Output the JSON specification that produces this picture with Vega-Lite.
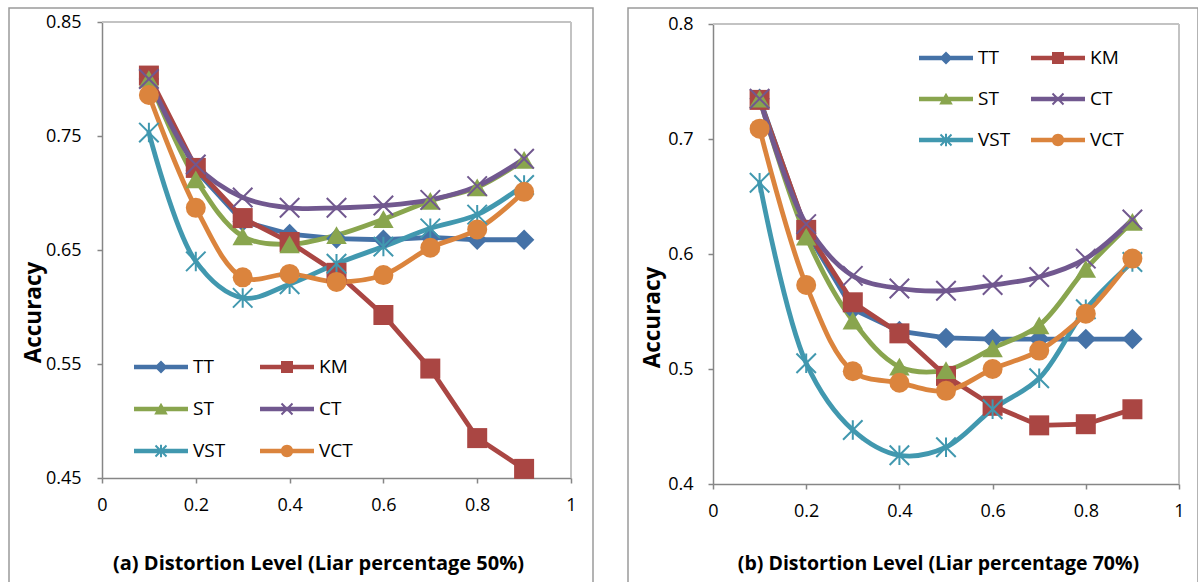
{
  "$schema": "https://vega.github.io/schema/vega-lite/v6.json",
  "padding": {"left": 8, "top": 7, "right": 0, "bottom": 0},
  "background": "white",
  "spacing": 35,
  "bounds": "flush",
  "datasets": {
    "acc": [
      {"p":"a","s":"TT","x":0.1,"y":0.800},{"p":"a","s":"TT","x":0.2,"y":0.720},{"p":"a","s":"TT","x":0.3,"y":0.675},{"p":"a","s":"TT","x":0.4,"y":0.664},{"p":"a","s":"TT","x":0.5,"y":0.660},{"p":"a","s":"TT","x":0.6,"y":0.659},{"p":"a","s":"TT","x":0.7,"y":0.661},{"p":"a","s":"TT","x":0.8,"y":0.659},{"p":"a","s":"TT","x":0.9,"y":0.659},
      {"p":"a","s":"KM","x":0.1,"y":0.803},{"p":"a","s":"KM","x":0.2,"y":0.722},{"p":"a","s":"KM","x":0.3,"y":0.678},{"p":"a","s":"KM","x":0.4,"y":0.657},{"p":"a","s":"KM","x":0.5,"y":0.630},{"p":"a","s":"KM","x":0.6,"y":0.593},{"p":"a","s":"KM","x":0.7,"y":0.546},{"p":"a","s":"KM","x":0.8,"y":0.485},{"p":"a","s":"KM","x":0.9,"y":0.458},
      {"p":"a","s":"ST","x":0.1,"y":0.800},{"p":"a","s":"ST","x":0.2,"y":0.712},{"p":"a","s":"ST","x":0.3,"y":0.662},{"p":"a","s":"ST","x":0.4,"y":0.655},{"p":"a","s":"ST","x":0.5,"y":0.663},{"p":"a","s":"ST","x":0.6,"y":0.677},{"p":"a","s":"ST","x":0.7,"y":0.693},{"p":"a","s":"ST","x":0.8,"y":0.705},{"p":"a","s":"ST","x":0.9,"y":0.729},
      {"p":"a","s":"CT","x":0.1,"y":0.800},{"p":"a","s":"CT","x":0.2,"y":0.725},{"p":"a","s":"CT","x":0.3,"y":0.696},{"p":"a","s":"CT","x":0.4,"y":0.687},{"p":"a","s":"CT","x":0.5,"y":0.687},{"p":"a","s":"CT","x":0.6,"y":0.689},{"p":"a","s":"CT","x":0.7,"y":0.694},{"p":"a","s":"CT","x":0.8,"y":0.706},{"p":"a","s":"CT","x":0.9,"y":0.730},
      {"p":"a","s":"VST","x":0.1,"y":0.753},{"p":"a","s":"VST","x":0.2,"y":0.640},{"p":"a","s":"VST","x":0.3,"y":0.608},{"p":"a","s":"VST","x":0.4,"y":0.620},{"p":"a","s":"VST","x":0.5,"y":0.638},{"p":"a","s":"VST","x":0.6,"y":0.653},{"p":"a","s":"VST","x":0.7,"y":0.669},{"p":"a","s":"VST","x":0.8,"y":0.681},{"p":"a","s":"VST","x":0.9,"y":0.707},
      {"p":"a","s":"VCT","x":0.1,"y":0.786},{"p":"a","s":"VCT","x":0.2,"y":0.687},{"p":"a","s":"VCT","x":0.3,"y":0.626},{"p":"a","s":"VCT","x":0.4,"y":0.629},{"p":"a","s":"VCT","x":0.5,"y":0.622},{"p":"a","s":"VCT","x":0.6,"y":0.628},{"p":"a","s":"VCT","x":0.7,"y":0.652},{"p":"a","s":"VCT","x":0.8,"y":0.668},{"p":"a","s":"VCT","x":0.9,"y":0.701},
      {"p":"b","s":"TT","x":0.1,"y":0.735},{"p":"b","s":"TT","x":0.2,"y":0.620},{"p":"b","s":"TT","x":0.3,"y":0.552},{"p":"b","s":"TT","x":0.4,"y":0.533},{"p":"b","s":"TT","x":0.5,"y":0.527},{"p":"b","s":"TT","x":0.6,"y":0.526},{"p":"b","s":"TT","x":0.7,"y":0.526},{"p":"b","s":"TT","x":0.8,"y":0.526},{"p":"b","s":"TT","x":0.9,"y":0.526},
      {"p":"b","s":"KM","x":0.1,"y":0.734},{"p":"b","s":"KM","x":0.2,"y":0.621},{"p":"b","s":"KM","x":0.3,"y":0.558},{"p":"b","s":"KM","x":0.4,"y":0.531},{"p":"b","s":"KM","x":0.5,"y":0.494},{"p":"b","s":"KM","x":0.6,"y":0.468},{"p":"b","s":"KM","x":0.7,"y":0.451},{"p":"b","s":"KM","x":0.8,"y":0.452},{"p":"b","s":"KM","x":0.9,"y":0.465},
      {"p":"b","s":"ST","x":0.1,"y":0.735},{"p":"b","s":"ST","x":0.2,"y":0.615},{"p":"b","s":"ST","x":0.3,"y":0.542},{"p":"b","s":"ST","x":0.4,"y":0.502},{"p":"b","s":"ST","x":0.5,"y":0.499},{"p":"b","s":"ST","x":0.6,"y":0.518},{"p":"b","s":"ST","x":0.7,"y":0.538},{"p":"b","s":"ST","x":0.8,"y":0.587},{"p":"b","s":"ST","x":0.9,"y":0.628},
      {"p":"b","s":"CT","x":0.1,"y":0.735},{"p":"b","s":"CT","x":0.2,"y":0.626},{"p":"b","s":"CT","x":0.3,"y":0.581},{"p":"b","s":"CT","x":0.4,"y":0.570},{"p":"b","s":"CT","x":0.5,"y":0.568},{"p":"b","s":"CT","x":0.6,"y":0.573},{"p":"b","s":"CT","x":0.7,"y":0.580},{"p":"b","s":"CT","x":0.8,"y":0.596},{"p":"b","s":"CT","x":0.9,"y":0.630},
      {"p":"b","s":"VST","x":0.1,"y":0.662},{"p":"b","s":"VST","x":0.2,"y":0.505},{"p":"b","s":"VST","x":0.3,"y":0.447},{"p":"b","s":"VST","x":0.4,"y":0.425},{"p":"b","s":"VST","x":0.5,"y":0.432},{"p":"b","s":"VST","x":0.6,"y":0.465},{"p":"b","s":"VST","x":0.7,"y":0.492},{"p":"b","s":"VST","x":0.8,"y":0.552},{"p":"b","s":"VST","x":0.9,"y":0.593},
      {"p":"b","s":"VCT","x":0.1,"y":0.709},{"p":"b","s":"VCT","x":0.2,"y":0.573},{"p":"b","s":"VCT","x":0.3,"y":0.498},{"p":"b","s":"VCT","x":0.4,"y":0.488},{"p":"b","s":"VCT","x":0.5,"y":0.481},{"p":"b","s":"VCT","x":0.6,"y":0.500},{"p":"b","s":"VCT","x":0.7,"y":0.516},{"p":"b","s":"VCT","x":0.8,"y":0.548},{"p":"b","s":"VCT","x":0.9,"y":0.596}
    ]
  },
  "resolve": {"scale": {"x": "independent", "y": "independent", "color": "independent"}},
  "hconcat": [
    {
      "width": 584,
      "height": 576,
      "data": {"name": "acc"},
      "transform": [{"filter": "datum.p === 'a'"}],
      "encoding": {
        "x": {"field": "x", "type": "quantitative", "scale": {"domain": [0, 1], "range": [93, 562], "nice": false, "zero": false},
          "axis": {"orient": "bottom", "offset": -106, "values": [0, 0.2, 0.4, 0.6, 0.8, 1], "format": "~g", "labelPadding": 13, "title": "(a) Distortion Level (Liar percentage 50%)", "titleX": 309, "titleY": 85, "titleAlign": "center", "titleBaseline": "middle", "titleFontSize": 20}},
        "y": {"field": "y", "type": "quantitative", "scale": {"domain": [0.45, 0.85], "range": [470, 14], "nice": false, "zero": false},
          "axis": {"orient": "left", "offset": -93, "values": [0.45, 0.55, 0.65, 0.75, 0.85], "format": ".2f", "labelPadding": 16, "title": "Accuracy", "titleX": -69, "titleY": 304, "titleAngle": -90, "titleAlign": "center", "titleBaseline": "middle", "titleFontSize": 22.5}},
        "color": {"field": "s", "type": "nominal",
          "scale": {"domain": ["TT", "KM", "ST", "CT", "VST", "VCT"], "range": ["#4572A7", "#AA4643", "#89A54E", "#71588F", "#4198AF", "#DB843D"]},
          "legend": {"orient": "none", "legendX": 142, "legendY": 349, "direction": "horizontal", "columns": 2, "columnPadding": 34, "rowPadding": 22, "title": null, "padding": 0,
            "symbolSize": 400, "labelOffset": 22, "labelFontSize": 19, "labelFont": "Open Sans", "labelColor": "#000", "symbolStrokeWidth": 0,
            "encode": {"symbols": {"update": {
              "shape": {"signal": "datum.value === 'TT' ? 'M-2.7,-0.22H2.7V0.22H-2.7Z M0,-0.65L0.65,0L0,0.65L-0.65,0Z' : datum.value === 'KM' ? 'M-2.7,-0.22H2.7V0.22H-2.7Z M-0.6,-0.6H0.6V0.6H-0.6Z' : datum.value === 'ST' ? 'M-2.7,-0.22H2.7V0.22H-2.7Z M0,-0.62L0.68,0.55H-0.68Z' : datum.value === 'CT' ? 'M-2.7,-0.22H2.7V0.22H-2.7Z M-0.48,-0.62L0.62,0.48L0.48,0.62L-0.62,-0.48Z M0.48,-0.62L0.62,-0.48L-0.48,0.62L-0.62,0.48Z' : datum.value === 'VST' ? 'M-2.7,-0.22H2.7V0.22H-2.7Z M-0.48,-0.62L0.62,0.48L0.48,0.62L-0.62,-0.48Z M0.48,-0.62L0.62,-0.48L-0.48,0.62L-0.62,0.48Z M-0.1,-0.62H0.1V0.62H-0.1Z' : 'M-2.7,-0.22H2.7V0.22H-2.7Z M-0.62,0A0.62,0.62 0 1,1 0.62,0A0.62,0.62 0 1,1 -0.62,0Z'"},
              "fill": {"signal": "datum.value === 'TT' ? '#4572A7' : datum.value === 'KM' ? '#AA4643' : datum.value === 'ST' ? '#89A54E' : datum.value === 'CT' ? '#71588F' : datum.value === 'VST' ? '#4198AF' : '#DB843D'"},
              "stroke": {"value": "transparent"},
              "opacity": {"value": 1}
            }}}
          }
        }
      },
      "layer": [
        {
          "mark": {"type": "line", "strokeWidth": 4.8, "strokeJoin": "round", "strokeCap": "round"},
          "transform": [{"filter": "datum.s === 'TT' || datum.s === 'KM'"}]
        },
        {
          "mark": {"type": "line", "strokeWidth": 4.8, "strokeJoin": "round", "strokeCap": "round", "interpolate": "catmull-rom"},
          "transform": [{"filter": "datum.s !== 'TT' && datum.s !== 'KM'"}]
        },
        {"mark": {"type": "point", "shape": "diamond", "filled": true, "opacity": 1, "size": 420}, "transform": [{"filter": "datum.s === 'TT'"}]},
        {"mark": {"type": "point", "shape": "square", "filled": true, "opacity": 1, "size": 400}, "transform": [{"filter": "datum.s === 'KM'"}]},
        {"mark": {"type": "point", "shape": "triangle-up", "filled": true, "opacity": 1, "size": 420}, "transform": [{"filter": "datum.s === 'ST'"}]},
        {"mark": {"type": "point", "shape": "M-1,-1L1,1M-1,1L1,-1", "filled": false, "opacity": 1, "size": 380, "strokeWidth": 2}, "transform": [{"filter": "datum.s === 'CT'"}]},
        {"mark": {"type": "point", "shape": "M-1,-1L1,1M-1,1L1,-1M0,-1L0,1", "filled": false, "opacity": 1, "size": 380, "strokeWidth": 2}, "transform": [{"filter": "datum.s === 'VST'"}]},
        {"mark": {"type": "point", "shape": "circle", "filled": true, "opacity": 1, "size": 400}, "transform": [{"filter": "datum.s === 'VCT'"}]},
        {
          "mark": {"type": "rule", "color": "#c3c3c3", "strokeWidth": 2},
          "transform": [{"filter": "datum.s === 'TT' && datum.x === 0.1"}],
          "encoding": {
            "x": {"datum": 0, "type": "quantitative"},
            "x2": {"datum": 1},
            "y": {"datum": 0.85, "type": "quantitative"},
            "color": {"value": "#c3c3c3"}
          }
        },
        {
          "mark": {"type": "rule", "color": "#c3c3c3", "strokeWidth": 2},
          "transform": [{"filter": "datum.s === 'TT' && datum.x === 0.1"}],
          "encoding": {
            "x": {"datum": 1, "type": "quantitative"},
            "y": {"datum": 0.45, "type": "quantitative"},
            "y2": {"datum": 0.85},
            "color": {"value": "#c3c3c3"}
          }
        }
      ]
    },
    {
      "width": 570,
      "height": 576,
      "data": {"name": "acc"},
      "transform": [{"filter": "datum.p === 'b'"}],
      "encoding": {
        "x": {"field": "x", "type": "quantitative", "scale": {"domain": [0, 1], "range": [85, 551], "nice": false, "zero": false},
          "axis": {"orient": "bottom", "offset": -100, "values": [0, 0.2, 0.4, 0.6, 0.8, 1], "format": "~g", "labelPadding": 13, "title": "(b) Distortion Level (Liar percentage 70%)", "titleX": 310, "titleY": 79, "titleAlign": "center", "titleBaseline": "middle", "titleFontSize": 19.5}},
        "y": {"field": "y", "type": "quantitative", "scale": {"domain": [0.4, 0.8], "range": [476, 16], "nice": false, "zero": false},
          "axis": {"orient": "left", "offset": -85, "values": [0.4, 0.5, 0.6, 0.7, 0.8], "format": ".1f", "labelPadding": 15, "title": "Accuracy", "titleX": -61, "titleY": 309, "titleAngle": -90, "titleAlign": "center", "titleBaseline": "middle", "titleFontSize": 22.5}},
        "color": {"field": "s", "type": "nominal",
          "scale": {"domain": ["TT", "KM", "ST", "CT", "VST", "VCT"], "range": ["#4572A7", "#AA4643", "#89A54E", "#71588F", "#4198AF", "#DB843D"]},
          "legend": {"orient": "none", "legendX": 308, "legendY": 40, "direction": "horizontal", "columns": 2, "columnPadding": 20, "rowPadding": 21, "title": null, "padding": 0,
            "symbolSize": 400, "labelOffset": 22, "labelFontSize": 19, "labelFont": "Open Sans", "labelColor": "#000", "symbolStrokeWidth": 0,
            "encode": {"symbols": {"update": {
              "shape": {"signal": "datum.value === 'TT' ? 'M-2.7,-0.22H2.7V0.22H-2.7Z M0,-0.65L0.65,0L0,0.65L-0.65,0Z' : datum.value === 'KM' ? 'M-2.7,-0.22H2.7V0.22H-2.7Z M-0.6,-0.6H0.6V0.6H-0.6Z' : datum.value === 'ST' ? 'M-2.7,-0.22H2.7V0.22H-2.7Z M0,-0.62L0.68,0.55H-0.68Z' : datum.value === 'CT' ? 'M-2.7,-0.22H2.7V0.22H-2.7Z M-0.48,-0.62L0.62,0.48L0.48,0.62L-0.62,-0.48Z M0.48,-0.62L0.62,-0.48L-0.48,0.62L-0.62,0.48Z' : datum.value === 'VST' ? 'M-2.7,-0.22H2.7V0.22H-2.7Z M-0.48,-0.62L0.62,0.48L0.48,0.62L-0.62,-0.48Z M0.48,-0.62L0.62,-0.48L-0.48,0.62L-0.62,0.48Z M-0.1,-0.62H0.1V0.62H-0.1Z' : 'M-2.7,-0.22H2.7V0.22H-2.7Z M-0.62,0A0.62,0.62 0 1,1 0.62,0A0.62,0.62 0 1,1 -0.62,0Z'"},
              "fill": {"signal": "datum.value === 'TT' ? '#4572A7' : datum.value === 'KM' ? '#AA4643' : datum.value === 'ST' ? '#89A54E' : datum.value === 'CT' ? '#71588F' : datum.value === 'VST' ? '#4198AF' : '#DB843D'"},
              "stroke": {"value": "transparent"},
              "opacity": {"value": 1}
            }}}
          }
        }
      },
      "layer": [
        {
          "mark": {"type": "line", "strokeWidth": 4.8, "strokeJoin": "round", "strokeCap": "round"},
          "transform": [{"filter": "datum.s === 'TT' || datum.s === 'KM'"}]
        },
        {
          "mark": {"type": "line", "strokeWidth": 4.8, "strokeJoin": "round", "strokeCap": "round", "interpolate": "catmull-rom"},
          "transform": [{"filter": "datum.s !== 'TT' && datum.s !== 'KM'"}]
        },
        {"mark": {"type": "point", "shape": "diamond", "filled": true, "opacity": 1, "size": 420}, "transform": [{"filter": "datum.s === 'TT'"}]},
        {"mark": {"type": "point", "shape": "square", "filled": true, "opacity": 1, "size": 400}, "transform": [{"filter": "datum.s === 'KM'"}]},
        {"mark": {"type": "point", "shape": "triangle-up", "filled": true, "opacity": 1, "size": 420}, "transform": [{"filter": "datum.s === 'ST'"}]},
        {"mark": {"type": "point", "shape": "M-1,-1L1,1M-1,1L1,-1", "filled": false, "opacity": 1, "size": 380, "strokeWidth": 2}, "transform": [{"filter": "datum.s === 'CT'"}]},
        {"mark": {"type": "point", "shape": "M-1,-1L1,1M-1,1L1,-1M0,-1L0,1", "filled": false, "opacity": 1, "size": 380, "strokeWidth": 2}, "transform": [{"filter": "datum.s === 'VST'"}]},
        {"mark": {"type": "point", "shape": "circle", "filled": true, "opacity": 1, "size": 400}, "transform": [{"filter": "datum.s === 'VCT'"}]},
        {
          "mark": {"type": "rule", "color": "#c3c3c3", "strokeWidth": 2},
          "transform": [{"filter": "datum.s === 'TT' && datum.x === 0.1"}],
          "encoding": {
            "x": {"datum": 0, "type": "quantitative"},
            "x2": {"datum": 1},
            "y": {"datum": 0.8, "type": "quantitative"},
            "color": {"value": "#c3c3c3"}
          }
        },
        {
          "mark": {"type": "rule", "color": "#c3c3c3", "strokeWidth": 2},
          "transform": [{"filter": "datum.s === 'TT' && datum.x === 0.1"}],
          "encoding": {
            "x": {"datum": 1, "type": "quantitative"},
            "y": {"datum": 0.4, "type": "quantitative"},
            "y2": {"datum": 0.8},
            "color": {"value": "#c3c3c3"}
          }
        }
      ]
    }
  ],
  "config": {
    "font": "Open Sans",
    "view": {"stroke": "#9a9a9a", "strokeWidth": 1.5},
    "axis": {
      "domainColor": "#868686", "domainWidth": 1.5, "tickColor": "#868686", "tickWidth": 1.5, "tickSize": 5,
      "grid": false, "labelFont": "Open Sans", "labelFontSize": 18, "labelColor": "#000", "labelFlush": false, "labelOverlap": false,
      "titleFont": "Open Sans", "titleFontWeight": "bold", "titleColor": "#000"
    }
  }
}
